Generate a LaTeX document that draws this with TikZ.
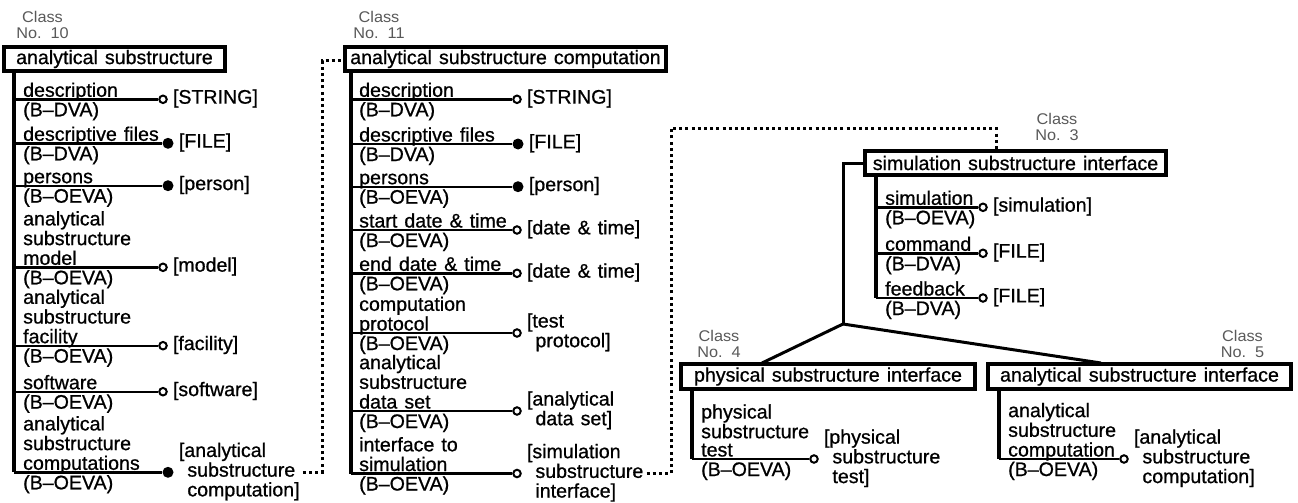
\documentclass[tikz,border=0pt]{standalone}
\usepackage{fontspec}
\setmainfont{Liberation Sans}[FakeStretch=1.0,FakeBold=0.8]
\newfontfamily\clsfont{Liberation Sans}[FakeStretch=1.05]
\newcommand\dfont{\fontsize{19.6}{18.3}\selectfont\spaceskip=0.36em\relax}
\newcommand\cfont{\clsfont\fontsize{15.5}{15.5}\selectfont}
\newcommand\abv[1]{\begin{tabular}[b]{@{}l@{}}#1\end{tabular}}
\newcommand\rlab[1]{\begin{tabular}{@{}l@{}}#1\end{tabular}}
\newcommand\ind{\hspace*{8.5pt}}
\tikzset{
  every node/.style={inner sep=0pt, font=\dfont},
  boxn/.style={draw, rectangle, line width=4.4pt, fill=white},
  vline/.style={line width=3.6pt},
  hline/.style={line width=2.4pt},
  ocirc/.style={circle, draw, line width=2pt, minimum size=7.5pt, fill=white},
  fcirc/.style={circle, fill=black, minimum size=11pt},
  clsno/.style={align=center, font=\cfont, text=black!65},
  dotl/.style={line width=3pt, dash pattern=on 3pt off 3.2pt},
  conn/.style={line width=3pt},
  rl/.style={anchor=west},
  al/.style={anchor=base west},
}
% id, x of vertical, x of text, y of line, x of circle, circle style, label above, label below, right label
\newcommand\attr[9]{%
  \coordinate (#1v) at (#2,#4);
  \node[#6] (#1c) at (#5,#4) {};
  \draw[hline] (#1v) -- (#1c);
  \node[al] (#1a) at (#3,#4-2.5) {\abv{#7}};
  \node[al] (#1b) at (#3,#4+17) {#8};
  \node[rl] (#1r) at ([xshift=5pt]#1c.east) {\rlab{#9}};
}
\begin{document}
\begin{tikzpicture}[x=1pt,y=-1pt]
\useasboundingbox (0,0) rectangle (1298,503);

% ---------- Class 10 ----------
\node[clsno] (c10) at (42.5,25) {Class\\No.~~10};
\attr{L1}{14}{23}{99.3}{163}{ocirc}{description}{(B--DVA)}{[STRING]}
\attr{L2}{14}{23}{143.3}{168}{fcirc}{descriptive files}{(B--DVA)}{[FILE]}
\attr{L3}{14}{23}{185.7}{168}{fcirc}{persons}{(B--OEVA)}{[person]}
\attr{L4}{14}{23}{267.3}{163}{ocirc}{analytical\\substructure\\model}{(B--OEVA)}{[model]}
\attr{L5}{14}{23}{345.7}{163}{ocirc}{analytical\\substructure\\facility}{(B--OEVA)}{[facility]}
\attr{L6}{14}{23}{391.7}{163}{ocirc}{software}{(B--OEVA)}{[software]}
\attr{L7}{14}{23}{472.3}{168}{fcirc}{analytical\\substructure\\computations}{(B--OEVA)}{[analytical\\\ind substructure\\\ind computation]}
\node[boxn, minimum width=220.5pt, minimum height=23.5pt] (B10) at (114.5,59) {analytical substructure};
\draw[vline] (B10.south -| L1v) -- (L7v);

% ---------- Class 11 ----------
\node[clsno] (c11) at (379,25) {Class\\No.~~11};
\attr{M1}{351}{359}{99.3}{517}{ocirc}{description}{(B--DVA)}{[STRING]}
\attr{M2}{351}{359}{144}{518}{fcirc}{descriptive files}{(B--DVA)}{[FILE]}
\attr{M3}{351}{359}{186.7}{518}{fcirc}{persons}{(B--OEVA)}{[person]}
\attr{M4}{351}{359}{230}{517}{ocirc}{start date \& time}{(B--OEVA)}{[date \& time]}
\attr{M5}{351}{359}{273.3}{517}{ocirc}{end date \& time}{(B--OEVA)}{[date \& time]}
\attr{M6}{351}{359}{333}{517}{ocirc}{computation\\protocol}{(B--OEVA)}{[test\\\ind protocol]}
\attr{M7}{351}{359}{411}{517}{ocirc}{analytical\\substructure\\data set}{(B--OEVA)}{[analytical\\\ind data set]}
\attr{M8}{351}{359}{473.5}{517}{ocirc}{interface to\\simulation}{(B--OEVA)}{[simulation\\\ind substructure\\\ind interface]}
\node[boxn, minimum width=320.5pt, minimum height=23.5pt] (B11) at (505.5,59) {analytical substructure computation};
\draw[vline] (B11.south -| M1v) -- (M8v);

% ---------- Class 3 ----------
\node[clsno] (c3) at (1057,127) {Class\\No.~~3};
\attr{S1}{876}{885}{207.3}{983}{ocirc}{simulation}{(B--OEVA)}{[simulation]}
\attr{S2}{876}{885}{253.3}{983}{ocirc}{command}{(B--DVA)}{[FILE]}
\attr{S3}{876}{885}{298}{983}{ocirc}{feedback}{(B--DVA)}{[FILE]}

% ---------- Class 4 ----------
\node[clsno] (c4) at (719,344) {Class\\No.~~4};
\attr{P1}{692}{701}{459}{814}{ocirc}{physical\\substructure\\test}{(B--OEVA)}{[physical\\\ind substructure\\\ind test]}

% ---------- Class 5 ----------
\node[clsno] (c5) at (1242.5,344) {Class\\No.~~5};
\attr{A1}{999}{1008}{459}{1124}{ocirc}{analytical\\substructure\\computation}{(B--OEVA)}{[analytical\\\ind substructure\\\ind computation]}

% ---------- connectors between 3, 4, 5 ----------
\coordinate (J) at (843,324);
\coordinate (t4) at (762,363);
\coordinate (t5) at (1101,363);
\coordinate (s3) at (1000,163);
\draw[conn] (s3) -| (J);
\draw[conn] (J) -- (t4);
\draw[conn] (J) -- (t5);

\node[boxn, minimum width=300.5pt, minimum height=24pt] (B3) at (1015.5,163) {simulation substructure interface};
\node[boxn, minimum width=293.5pt, minimum height=24.5pt] (B4) at (828,376.5) {physical substructure interface};
\node[boxn, minimum width=302.5pt, minimum height=24.5pt] (B5) at (1139.5,376.5) {analytical substructure interface};
\draw[vline] (B3.south -| S1v) -- (S3v);
\draw[vline] (B4.south -| P1v) -- (P1v);
\draw[vline] (B5.south -| A1v) -- (A1v);

% ---------- dotted references ----------
\coordinate (d1a) at (322,472.3);
\coordinate (d1b) at (322,61);
\draw[dotl] ([xshift=3pt]L7r.east) -- (d1a) -- (d1b) -- (B11.west |- d1b);
\coordinate (d2a) at (671,473.5);
\coordinate (d2b) at (671,128);
\coordinate (d2c) at (996,128);
\draw[dotl] ([xshift=3pt]M8r.east) -- (d2a) -- (d2b) -- (d2c) -- (B3.north -| d2c);
\end{tikzpicture}
\end{document}
